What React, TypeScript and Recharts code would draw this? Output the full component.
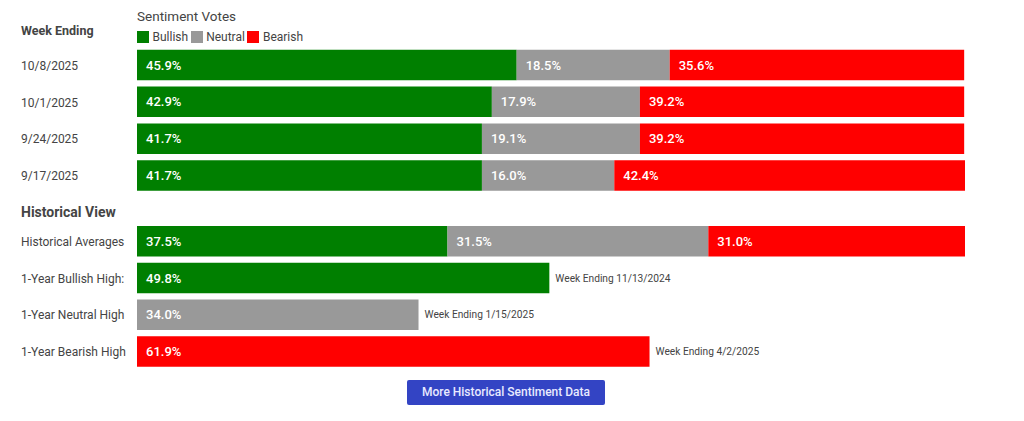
import React from "react";
import { BarChart, Bar, XAxis, YAxis, Legend, LabelList } from "recharts";

const weeks = ["10/8/2025", "10/1/2025", "9/24/2025", "9/17/2025"];
const weekBullish = [45.9, 42.9, 41.7, 41.7];
const weekNeutral = [18.5, 17.9, 19.1, 16.0];
const weekBearish = [35.6, 39.2, 39.2, 42.4];

const historyLabels = ["Historical Averages", "1-Year Bullish High:", "1-Year Neutral High", "1-Year Bearish High"];
const historyBullish = [37.5, 49.8, null, null];
const historyNeutral = [31.5, null, 34.0, null];
const historyBearish = [31.0, null, null, 61.9];
const historyNotes = [null, "Week Ending 11/13/2024", "Week Ending 1/15/2025", "Week Ending 4/2/2025"];

const GREEN = "#007f00";
const GREY = "#999999";
const RED = "#ff0000";
const TEXT = "#444444";
const FONT = "Roboto, sans-serif";

const weekData = weeks.map((name, i) => ({
  name,
  bullish: weekBullish[i],
  neutral: weekNeutral[i],
  bearish: weekBearish[i],
}));

const historyData = historyLabels.map((name, i) => ({
  name,
  bullish: historyBullish[i],
  neutral: historyNeutral[i],
  bearish: historyBearish[i],
  note: historyNotes[i],
}));

const pct = (v: any) => (v == null ? "" : `${Number(v).toFixed(1)}%`);

function RowTick({ y, payload }: any) {
  return (
    <text x={21} y={y} dy={4.5} textAnchor="start" fill={TEXT} fontSize={12} fontFamily={FONT}>
      {payload.value}
    </text>
  );
}

function Heading({ x, y, bold, size, children }: any) {
  return (
    <div
      style={{
        position: "absolute",
        left: x,
        top: y,
        fontFamily: FONT,
        fontSize: size,
        fontWeight: bold ? 700 : 400,
        color: TEXT,
        lineHeight: "16px",
        whiteSpace: "nowrap",
      }}
    >
      {children}
    </div>
  );
}

function LegendRow({ payload }: any) {
  return (
    <div style={{ display: "flex", alignItems: "center", fontFamily: FONT, fontSize: 12, color: TEXT }}>
      {(payload || []).map((item: any) => (
        <div key={item.value} style={{ display: "flex", alignItems: "center", marginRight: 2.5 }}>
          <span style={{ width: 12, height: 12, background: item.color, marginRight: 3.5 }} />
          <span>{item.value}</span>
        </div>
      ))}
    </div>
  );
}

function percentLabels(key: string) {
  return (
    <LabelList
      dataKey={key}
      position="insideLeft"
      offset={9}
      fill="#ffffff"
      fontSize={13}
      fontWeight={500}
      fontFamily={FONT}
      formatter={pct}
    />
  );
}

function noteLabels() {
  return <LabelList dataKey="note" position="right" offset={6} fill={TEXT} fontSize={10.2} fontFamily={FONT} />;
}

export default function App() {
  return (
    <div style={{ position: "absolute", left: 0, top: 0, width: 1024, height: 421, background: "#fff" }}>
      <Heading x={137} y={8} size={13.5}>Sentiment Votes</Heading>
      <Heading x={21} y={23} size={12.5} bold>Week Ending</Heading>
      <Heading x={21} y={204} size={14} bold>Historical View</Heading>

      <div style={{ position: "absolute", left: 0, top: 0 }}>
        <BarChart
          width={1024}
          height={194}
          layout="vertical"
          data={weekData}
          barSize={30.5}
          margin={{ top: 26.8, right: 59, bottom: 0, left: 0 }}
        >
          <XAxis type="number" domain={[0, 100]} hide />
          <YAxis type="category" dataKey="name" width={137} axisLine={false} tickLine={false} interval={0} tick={<RowTick />} />
          <Legend
            verticalAlign="top"
            align="left"
            height={20}
            itemSorter={null}
            content={<LegendRow />}
            wrapperStyle={{ top: 30, left: 137, width: 300 }}
          />
          <Bar dataKey="bullish" name="Bullish" stackId="a" fill={GREEN} isAnimationActive={false}>
            {percentLabels("bullish")}
          </Bar>
          <Bar dataKey="neutral" name="Neutral" stackId="a" fill={GREY} isAnimationActive={false}>
            {percentLabels("neutral")}
          </Bar>
          <Bar dataKey="bearish" name="Bearish" stackId="a" fill={RED} isAnimationActive={false}>
            {percentLabels("bearish")}
          </Bar>
        </BarChart>
      </div>

      <div style={{ position: "absolute", left: 0, top: 223 }}>
        <BarChart
          width={1024}
          height={147}
          layout="vertical"
          data={historyData}
          barSize={30.5}
          margin={{ top: 0, right: 59, bottom: 0, left: 0 }}
        >
          <XAxis type="number" domain={[0, 100]} hide />
          <YAxis type="category" dataKey="name" width={137} axisLine={false} tickLine={false} interval={0} tick={<RowTick />} />
          <Bar dataKey="bullish" stackId="a" fill={GREEN} isAnimationActive={false}>
            {percentLabels("bullish")}
            {noteLabels()}
          </Bar>
          <Bar dataKey="neutral" stackId="a" fill={GREY} isAnimationActive={false}>
            {percentLabels("neutral")}
            {noteLabels()}
          </Bar>
          <Bar dataKey="bearish" stackId="a" fill={RED} isAnimationActive={false}>
            {percentLabels("bearish")}
            {noteLabels()}
          </Bar>
        </BarChart>
      </div>

      <div
        style={{
          position: "absolute",
          left: 407,
          top: 380,
          width: 198,
          height: 25,
          lineHeight: "25px",
          textAlign: "center",
          background: "#3344c4",
          borderRadius: 2,
          color: "#e8eaff",
          fontFamily: FONT,
          fontSize: 12,
          fontWeight: 500,
        }}
      >
        More Historical Sentiment Data
      </div>
    </div>
  );
}
